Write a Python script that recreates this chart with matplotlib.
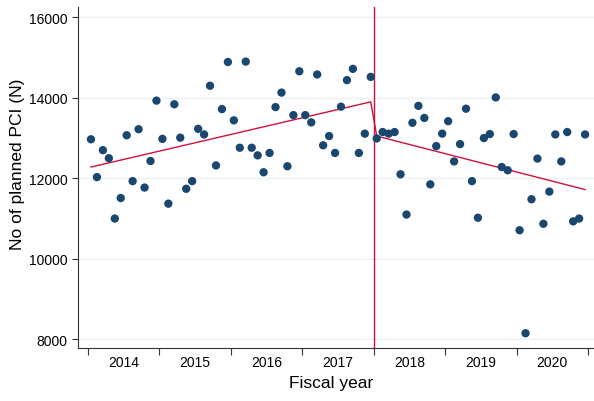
import numpy as np
import matplotlib
matplotlib.use("Agg")
import matplotlib.pyplot as plt

plt.rcParams['font.family'] = ['Liberation Sans', 'DejaVu Sans']

# Monthly counts of planned PCI, fiscal years 2014-2020 (April-March)
pre_counts = [
    12970, 12030, 12700, 12500, 11000, 11510, 13070, 11930, 13220, 11770, 12430, 13930,
    12980, 11370, 13840, 13010, 11740, 11930, 13230, 13090, 14300, 12320, 13720, 14890,
    13440, 12760, 14900, 12760, 12570, 12150, 12630, 13770, 14130, 12300, 13570, 14660,
    13570, 13390, 14580, 12820, 13050, 12630, 13780, 14440, 14720, 12630, 13110, 14520,
]
post_counts = [
    12990, 13150, 13110, 13150, 12100, 11100, 13380, 13800, 13500, 11850, 12800, 13110,
    13420, 12420, 12850, 13730, 11930, 11020, 13000, 13100, 14010, 12280, 12200, 13100,
    10710, 8150, 11480, 12490, 10870, 11670, 13090, 12420, 13150, 10930, 11000, 13090,
]

# Fitted segmented trend (start / end of each period)
pre_fit = [12280, 13900]
post_fit = [13050, 11720]

years = ['2014', '2015', '2016', '2017', '2018', '2019', '2020']
yticks = [8000, 10000, 12000, 14000, 16000]

counts = np.array(pre_counts + post_counts)
months = np.arange(len(counts)) + 0.5
n_pre = len(pre_counts)

fig = plt.figure(figsize=(5.94, 4.02), dpi=100)
ax = fig.add_axes([0.1318, 0.1311, 0.8682, 0.8489])

for v in yticks:
    ax.axhline(v, color='#eaf2f3', lw=1.0, zorder=0)

ax.scatter(months, counts, s=36, color='#1a476f', edgecolors='none', zorder=3)

fit_x = [months[0], months[n_pre - 1], months[n_pre], months[-1]]
fit_y = pre_fit + post_fit
ax.plot(fit_x, fit_y, color='#d0103a', lw=1.0, zorder=2)
ax.axvline(n_pre, color='#d0103a', lw=1.0, zorder=2)

ax.set_xlim(-1.63, 85.0)
ax.set_ylim(7776, 16256)

ax.set_yticks(yticks)
ax.set_yticklabels([str(v) for v in yticks])
ax.set_xticks(np.arange(0, 85, 12))
ax.set_xticklabels([])
ax.set_xticks(np.arange(6, 84, 12), minor=True)
ax.set_xticklabels(years, minor=True)
ax.tick_params(axis='x', which='major', length=5, width=0.8, color='#333333')
ax.tick_params(axis='x', which='minor', length=0, pad=4.5, labelsize=10)
ax.tick_params(axis='y', length=4.5, width=0.8, color='#333333', labelsize=10, pad=3)

for side in ['top', 'right']:
    ax.spines[side].set_visible(False)
for side in ['left', 'bottom']:
    ax.spines[side].set_color('#333333')
    ax.spines[side].set_linewidth(0.8)

fig.text(0.030, 0.592, 'No of planned PCI (N)', fontsize=12.5, rotation=90,
         ha='center', va='center')
fig.text(0.557, 0.047, 'Fiscal year', fontsize=12.5, ha='center', va='center')

fig.savefig('out.png', dpi=100)
